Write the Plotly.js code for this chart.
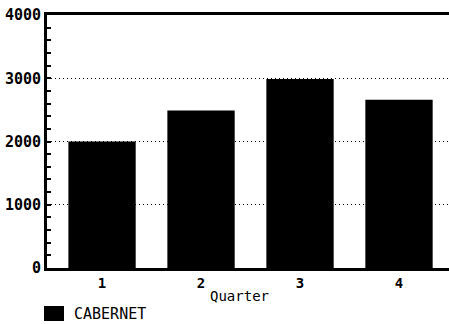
<!DOCTYPE html>
<html>
<head>
<meta charset="utf-8">
<script src="https://cdn.plot.ly/plotly-3.0.1.min.js"></script>
<style>html,body{margin:0;padding:0;background:#fff;}#chart{width:449px;height:324px;}</style>
</head>
<body>
<div id="chart"></div>
<script>
const quarters = [1, 2, 3, 4];
const quarterLabels = ['1', '2', '3', '4'];
const cabernet = [2000, 2490, 2990, 2660];
const seriesName = 'CABERNET';
const yTicks = [0, 1000, 2000, 3000, 4000];
const yTickLabels = ['0', '1000', '2000', '3000', '4000'];

const font = 'DejaVu Sans Mono, monospace';

const trace = {
  type: 'bar',
  x: quarters,
  y: cabernet,
  name: seriesName,
  marker: {color: '#000', line: {width: 0}},
  showlegend: false
};

// paper coordinates: plot area is 402 x 253 px (x 47..449, y 15..268)
const pw = 402, ph = 253;
const px = v => (v - 47) / pw;
const py = v => (268 - v) / ph;

const layout = {
  width: 449, height: 324,
  margin: {l: 47, r: 0, t: 15, b: 56, autoexpand: false},
  paper_bgcolor: '#fff', plot_bgcolor: '#fff',
  bargap: 0.32,
  font: {family: font, color: '#000', size: 14},
  xaxis: {
    range: [0.444, 4.505],
    tickvals: quarters, ticktext: quarterLabels,
    showline: true, linewidth: 3, linecolor: '#000', mirror: true,
    showgrid: false, zeroline: false,
    ticks: '', tickfont: {family: font, size: 14, color: '#000', weight: 'bold'},
    fixedrange: true
  },
  yaxis: {
    range: [0, 4000],
    tickvals: yTicks, ticktext: yTickLabels,
    showline: true, linewidth: 3, linecolor: '#000',
    showgrid: true, gridcolor: '#000', gridwidth: 1, griddash: '1px,3px',
    zeroline: false,
    ticks: 'inside', ticklen: 4, tickwidth: 2, tickcolor: '#000',
    minor: {dtick: 200, ticks: 'inside', ticklen: 4, tickwidth: 2, tickcolor: '#000', showgrid: false},
    tickfont: {family: font, size: 15, color: '#000', weight: 'bold'},
    fixedrange: true
  },
  showlegend: false,
  shapes: [{
    type: 'rect', xref: 'paper', yref: 'paper',
    x0: px(44), x1: px(64), y0: py(321), y1: py(306),
    fillcolor: '#000', line: {width: 0}
  }],
  annotations: [{
    text: 'Quarter', xref: 'paper', yref: 'paper',
    x: px(239), y: py(296), xanchor: 'center', yanchor: 'middle',
    showarrow: false, font: {family: font, size: 14, color: '#000'}
  }, {
    text: seriesName, xref: 'paper', yref: 'paper',
    x: px(72), y: py(314), xanchor: 'left', yanchor: 'middle',
    showarrow: false, font: {family: font, size: 15, color: '#000'}
  }]
};

Plotly.newPlot('chart', [trace], layout, {displayModeBar: false, staticPlot: true});
</script>
</body>
</html>
